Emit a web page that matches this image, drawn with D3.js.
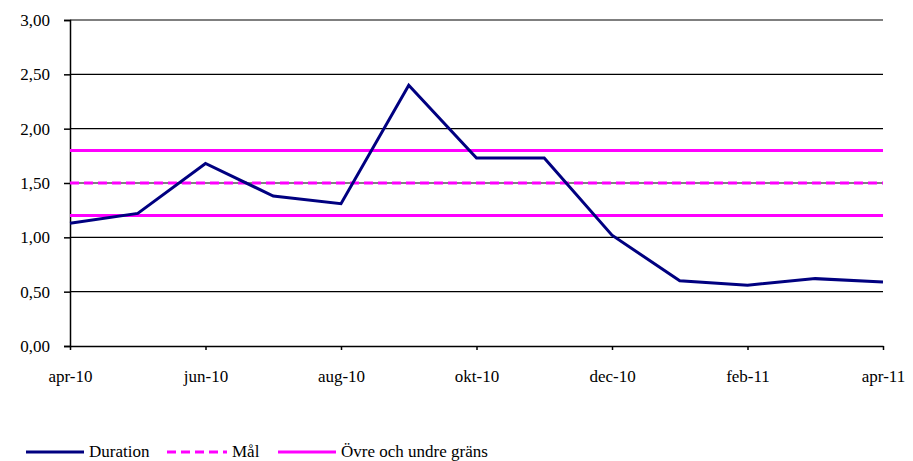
<!DOCTYPE html>
<html>
<head>
<meta charset="utf-8">
<script src="https://cdn.jsdelivr.net/npm/d3@7"></script>
<style>
  body { margin: 0; background: #fff; }
</style>
</head>
<body>
<svg id="svg" width="913" height="461"></svg>
<script>
// Data
const months = ["apr-10","maj-10","jun-10","jul-10","aug-10","sep-10","okt-10","nov-10","dec-10","jan-11","feb-11","mar-11","apr-11"];
const duration = [1.13, 1.22, 1.68, 1.38, 1.31, 2.40, 1.73, 1.73, 1.02, 0.60, 0.56, 0.62, 0.59];
const target = 1.5;
const bounds = [1.8, 1.2];
const yTicks = [0, 0.5, 1, 1.5, 2, 2.5, 3];

const FONT = "Times New Roman, Times, Liberation Serif, serif";
const svg = d3.select("#svg");
const plotLeft = 70, plotRight = 883, plotTop = 20, plotBottom = 346;

const x = d3.scalePoint().domain(months).range([plotLeft, plotRight]);
const y = d3.scaleLinear().domain([0, 3]).range([plotBottom, plotTop]);
const fmt = v => d3.format(".2f")(v).replace(".", ",");

// Gridlines
svg.selectAll("line.grid")
  .data(yTicks.filter(d => d > 0))
  .enter()
  .append("line")
  .attr("x1", plotLeft).attr("x2", plotRight)
  .attr("y1", d => y(d)).attr("y2", d => y(d))
  .attr("stroke", "#000").attr("stroke-width", 1.2);

// Y axis
const yAxis = svg.append("g")
  .attr("transform", `translate(${plotLeft},0)`)
  .call(d3.axisLeft(y).tickValues(yTicks).tickSize(6).tickPadding(14).tickFormat(fmt));
yAxis.attr("font-family", FONT).attr("font-size", 17);
yAxis.select(".domain").attr("stroke-width", 1.5);
yAxis.selectAll("line").attr("stroke-width", 1.5);
yAxis.selectAll("text").attr("fill", "#000");

// X axis
const xAxis = svg.append("g")
  .attr("transform", `translate(0,${plotBottom})`)
  .call(d3.axisBottom(x).tickValues(months.filter((d, i) => i % 2 === 0)).tickSize(4).tickPadding(20).tickSizeOuter(0));
xAxis.attr("font-family", FONT).attr("font-size", 17);
xAxis.select(".domain").attr("stroke-width", 1.5);
xAxis.selectAll("line").attr("stroke-width", 1.5);
xAxis.selectAll("text").attr("fill", "#000");

// Upper and lower limits
svg.selectAll("line.bound")
  .data(bounds)
  .enter()
  .append("line")
  .attr("x1", plotLeft).attr("x2", plotRight)
  .attr("y1", d => y(d)).attr("y2", d => y(d))
  .attr("stroke", "#ff00ff").attr("stroke-width", 3);

// Target
svg.append("line")
  .attr("x1", plotLeft).attr("x2", plotRight)
  .attr("y1", y(target)).attr("y2", y(target))
  .attr("stroke", "#ff00ff").attr("stroke-width", 3)
  .attr("stroke-dasharray", "9,5");

// Duration line
svg.append("path")
  .datum(duration)
  .attr("fill", "none")
  .attr("stroke", "#000080")
  .attr("stroke-width", 3)
  .attr("d", d3.line().x((d, i) => x(months[i])).y(d => y(d)));

// Legend
const legend = [
  {label: "Duration", color: "#000080", dash: null, x: 26},
  {label: "Mål", color: "#ff00ff", dash: "9,5", x: 167},
  {label: "Övre och undre gräns", color: "#ff00ff", dash: null, x: 278}
];
const lg = svg.selectAll("g.legend")
  .data(legend)
  .enter()
  .append("g")
  .attr("transform", d => `translate(${d.x},452)`);
lg.append("line")
  .attr("x1", 0).attr("x2", d => d.dash ? 60 : 58)
  .attr("stroke", d => d.color).attr("stroke-width", 3)
  .attr("stroke-dasharray", d => d.dash);
lg.append("text")
  .attr("x", d => d.dash ? 65 : 63).attr("y", 5)
  .attr("font-family", FONT)
  .attr("font-size", 17)
  .text(d => d.label);
</script>
</body>
</html>
